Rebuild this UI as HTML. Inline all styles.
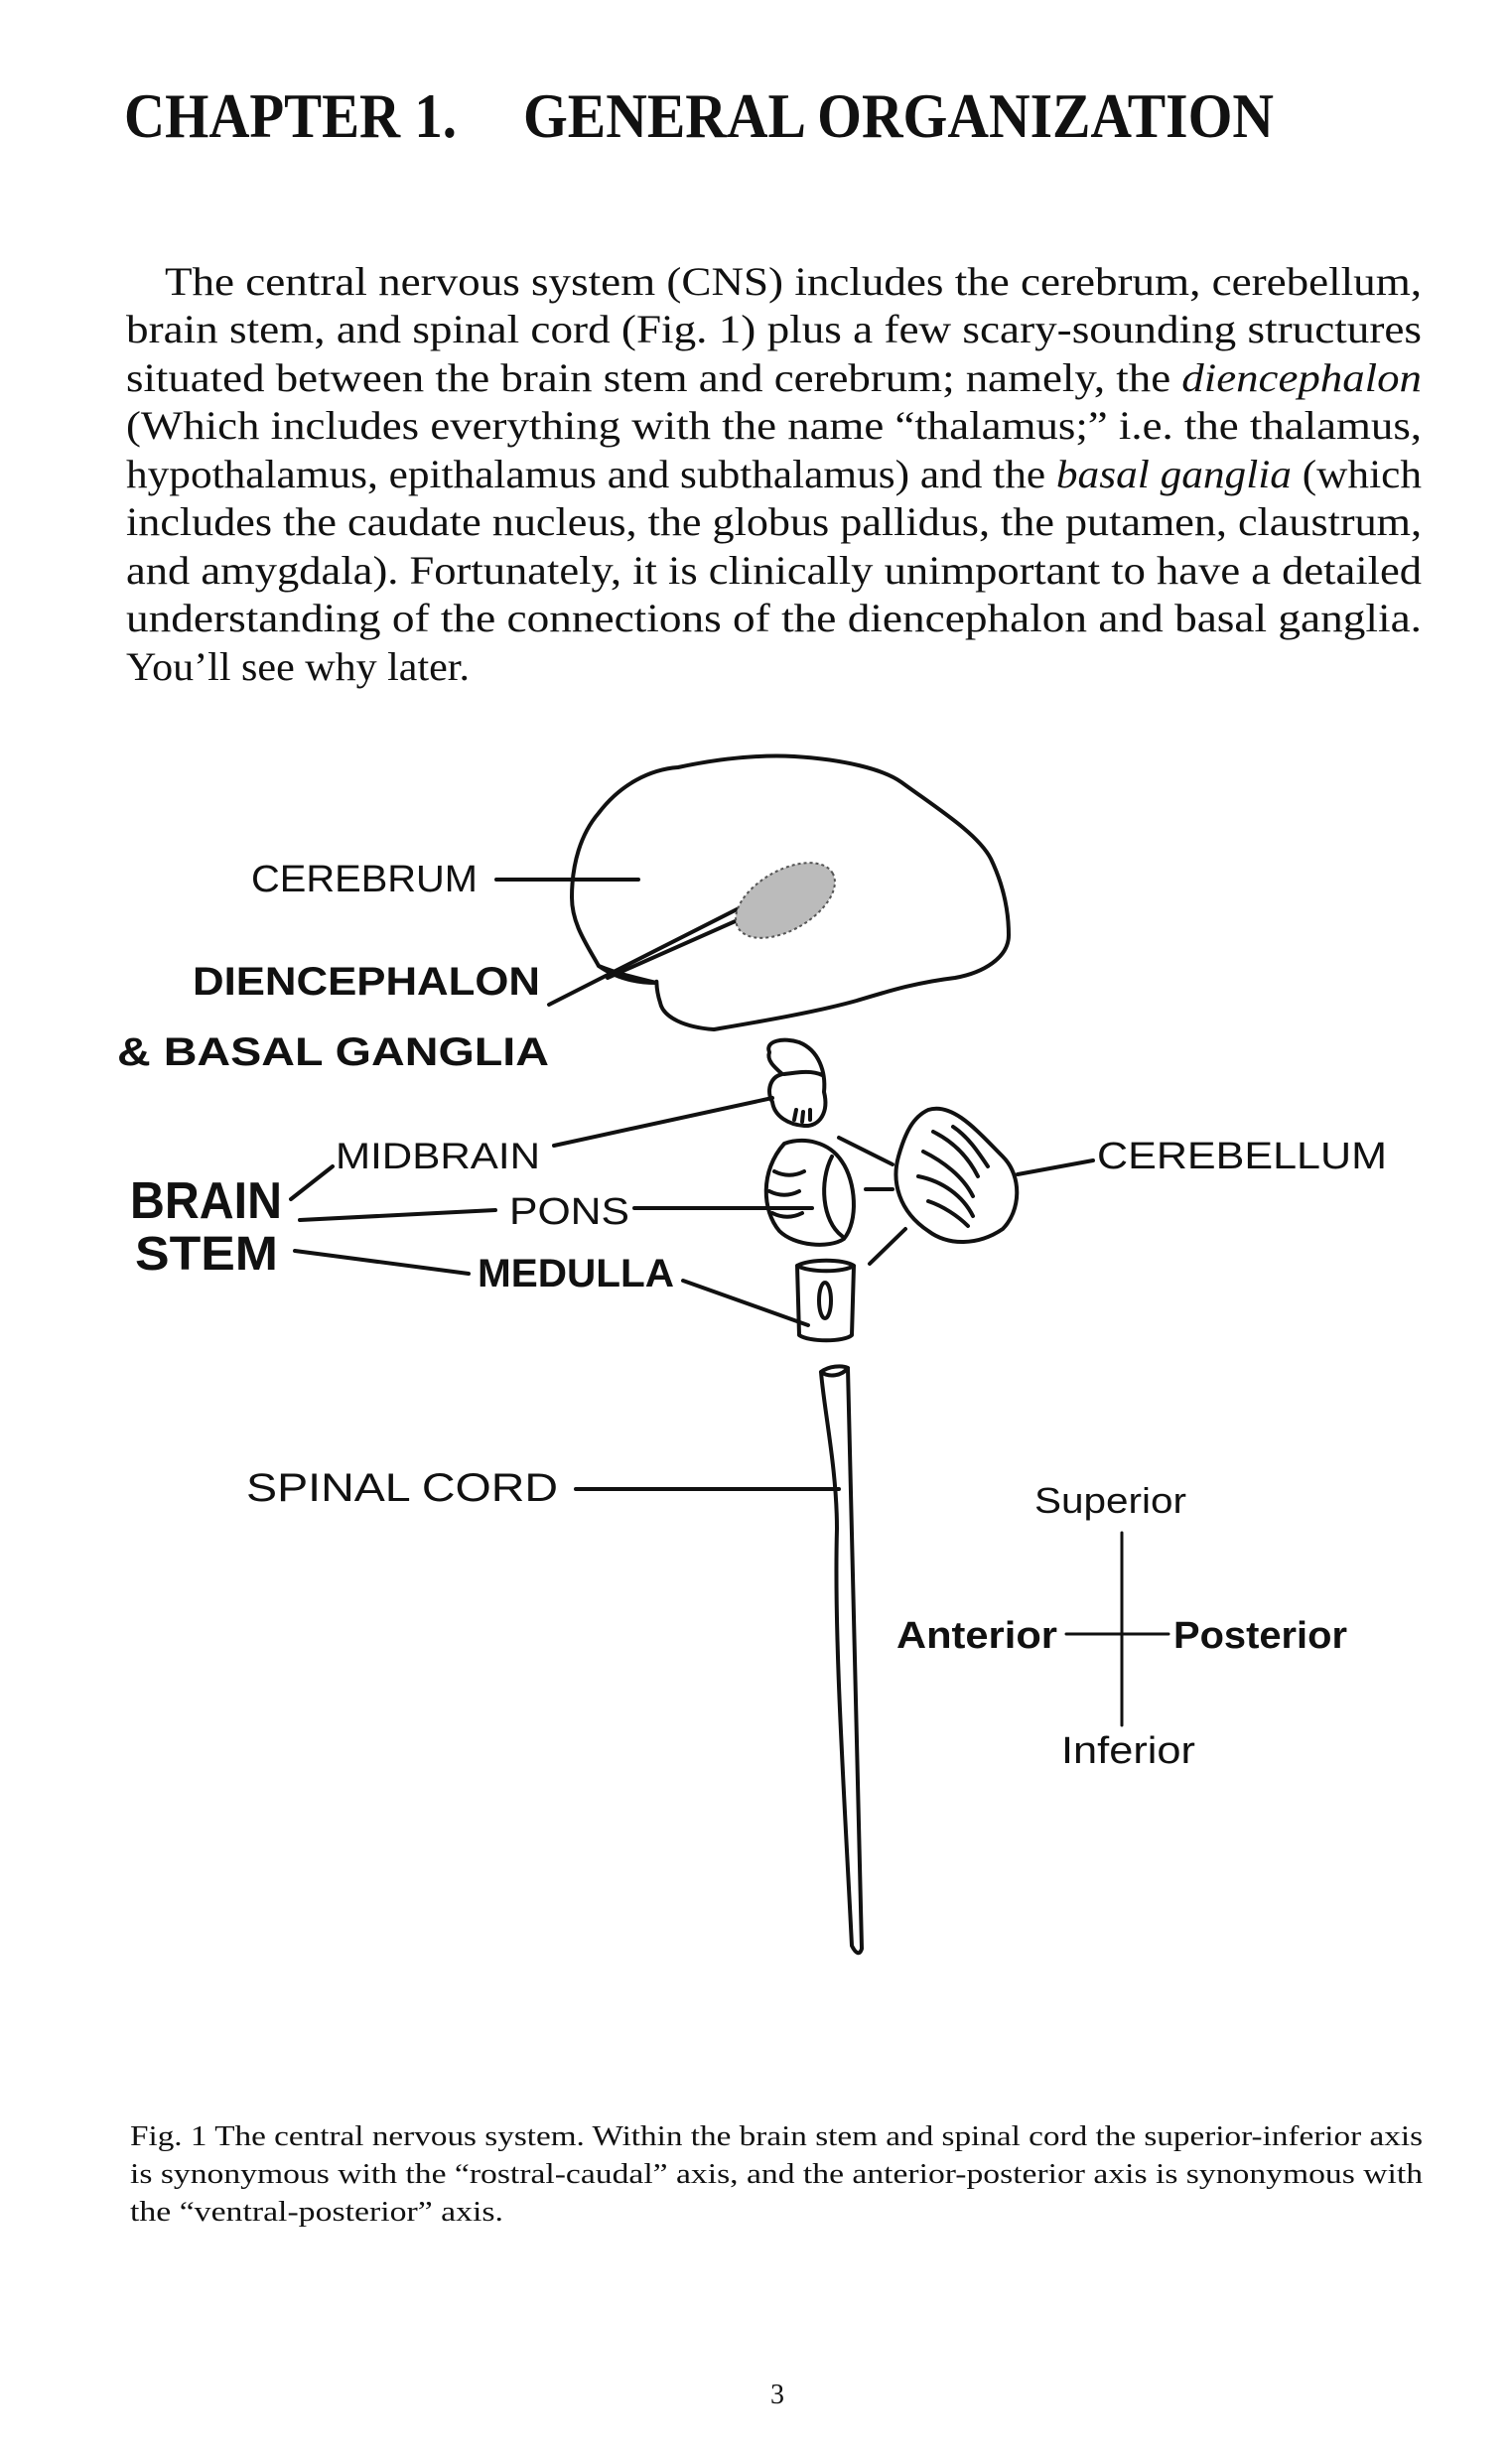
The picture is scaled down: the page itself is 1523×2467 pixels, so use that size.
<!DOCTYPE html>
<html><head><meta charset="utf-8"><style>
html,body{margin:0;padding:0;background:#fff;}
svg{display:block;}
.s{font-family:"Liberation Serif",serif;fill:#111;}
.a{font-family:"Liberation Sans",sans-serif;fill:#111;}
</style></head><body>
<svg width="1523" height="2467" viewBox="0 0 1523 2467" xmlns="http://www.w3.org/2000/svg">
<rect width="1523" height="2467" fill="#fff"/>
<g class="s" font-weight="bold" font-size="64">
<text x="125" y="138" textLength="335" lengthAdjust="spacingAndGlyphs">CHAPTER 1.</text>
<text x="527" y="138" textLength="756" lengthAdjust="spacingAndGlyphs">GENERAL ORGANIZATION</text>
</g>
<g class="s" font-size="40">
<text x="166" y="297" textLength="1266" lengthAdjust="spacingAndGlyphs">The central nervous system (CNS) includes the cerebrum, cerebellum,</text>
<text x="127" y="345" textLength="1305" lengthAdjust="spacingAndGlyphs">brain stem, and spinal cord (Fig. 1) plus a few scary-sounding structures</text>
<text x="127" y="394" textLength="1305" lengthAdjust="spacingAndGlyphs">situated between the brain stem and cerebrum; namely, the <tspan font-style="italic">diencephalon</tspan></text>
<text x="127" y="442" textLength="1305" lengthAdjust="spacingAndGlyphs">(Which includes everything with the name “thalamus;” i.e. the thalamus,</text>
<text x="127" y="491" textLength="1305" lengthAdjust="spacingAndGlyphs">hypothalamus, epithalamus and subthalamus) and the <tspan font-style="italic">basal ganglia</tspan> (which</text>
<text x="127" y="539" textLength="1305" lengthAdjust="spacingAndGlyphs">includes the caudate nucleus, the globus pallidus, the putamen, claustrum,</text>
<text x="127" y="588" textLength="1305" lengthAdjust="spacingAndGlyphs">and amygdala). Fortunately, it is clinically unimportant to have a detailed</text>
<text x="127" y="636" textLength="1305" lengthAdjust="spacingAndGlyphs">understanding of the connections of the diencephalon and basal ganglia.</text>
<text x="127" y="685" textLength="346" lengthAdjust="spacingAndGlyphs">You’ll see why later.</text>
</g>
<g fill="none" stroke="#111" stroke-width="4" stroke-linecap="round" stroke-linejoin="round">
<!-- cerebrum -->
<path d="M603,973 C590,950 576,930 576,904 C576,870 585,840 603,819 C625,790 655,775 683,773 C720,765 760,760 800,762 C850,765 890,775 908,788 C945,815 985,840 998,865 C1010,890 1016,915 1016,942 C1016,965 990,980 962,985 C920,990 890,1000 863,1008 C820,1020 760,1030 719,1037 C690,1035 668,1025 665,1010 C660,995 662,985 661,990 C640,985 620,980 603,973 Z"/>
<path d="M603,973 C620,985 640,990 661,990"/>
<!-- diencephalon pointer -->
<path d="M553,1012 L764,905"/>
<path d="M612,985 L770,915"/>
<path d="M500,886 L643,886"/>
<!-- midbrain -->
<path d="M775,1060 C770,1048 790,1045 805,1050 C825,1058 832,1080 830,1100 C835,1120 826,1135 810,1134 C795,1133 780,1125 778,1110 C772,1100 775,1085 788,1082 C780,1075 772,1068 775,1060 Z"/>
<path d="M790,1082 C805,1080 818,1078 828,1083"/>
<path d="M558,1154 L778,1106"/>
<path d="M800,1128 l2,-10 M808,1130 l1,-10 M816,1128 l0,-10"/>
<!-- pons -->
<path d="M790,1152 C810,1145 835,1150 848,1170 C862,1190 865,1230 850,1248 C835,1258 800,1255 785,1240 C768,1220 765,1180 790,1152 Z"/>
<path d="M838,1165 C825,1190 828,1230 848,1245"/>
<path d="M780,1180 c10,5 20,5 30,0 M775,1200 c10,5 20,5 30,0 M778,1222 c10,5 20,5 30,0"/>
<path d="M639,1217 L818,1217"/>
<!-- medulla -->
<path d="M803,1275 C815,1268 850,1268 860,1275 L858,1345 C850,1352 815,1352 805,1345 Z"/>
<path d="M803,1275 C815,1282 850,1282 860,1275"/>
<ellipse cx="831" cy="1310" rx="6" ry="18"/>
<path d="M688,1290 L814,1335"/>
<!-- cerebellum -->
<path d="M935,1118 C960,1110 985,1140 1010,1165 C1030,1185 1028,1220 1010,1238 C985,1255 955,1255 935,1240 C905,1220 898,1190 905,1165 C912,1140 920,1125 935,1118 Z"/>
<path d="M940,1140 c20,10 35,25 45,45 M930,1160 c20,10 40,25 50,45 M925,1185 c25,5 45,20 55,40 M960,1135 c15,10 25,25 35,40 M935,1210 c15,5 30,15 40,25"/>
<path d="M845,1146 L899,1173 M872,1198 L899,1198 M912,1238 L876,1273"/>
<path d="M1025,1183 L1101,1169"/>
<!-- brain stem label lines -->
<path d="M293,1208 L335,1175"/>
<path d="M302,1229 L499,1219"/>
<path d="M297,1260 L472,1283"/>
<!-- spinal cord -->
<path d="M827,1382 C835,1376 848,1375 854,1378 C856,1500 860,1700 868,1963 C866,1970 862,1968 858,1960 C850,1800 840,1650 843,1540 C843,1480 830,1420 827,1382 Z"/>
<path d="M827,1382 C835,1388 848,1386 854,1378"/>
<path d="M580,1500 L845,1500"/>
<!-- axes -->
<path d="M1130,1544 L1130,1738 M1074,1646 L1177,1646" stroke-width="3"/>
</g>
<!-- dotted diencephalon -->
<ellipse cx="791" cy="907" rx="55" ry="30" transform="rotate(-30 791 907)" fill="#bbb" stroke="#555" stroke-width="2" stroke-dasharray="3 3"/>
<g class="a">
<text x="253" y="898" font-size="38" textLength="228" lengthAdjust="spacingAndGlyphs">CEREBRUM</text>
<text x="194" y="1002" font-size="40" font-weight="bold" textLength="350" lengthAdjust="spacingAndGlyphs">DIENCEPHALON</text>
<text x="118" y="1073" font-size="40" font-weight="bold" textLength="435" lengthAdjust="spacingAndGlyphs">&amp;  BASAL GANGLIA</text>
<text x="338" y="1177" font-size="37" textLength="206" lengthAdjust="spacingAndGlyphs">MIDBRAIN</text>
<text x="131" y="1227" font-size="52" font-weight="bold" textLength="153" lengthAdjust="spacingAndGlyphs">BRAIN</text>
<text x="136" y="1279" font-size="48" font-weight="bold" textLength="144" lengthAdjust="spacingAndGlyphs">STEM</text>
<text x="513" y="1233" font-size="38" textLength="121" lengthAdjust="spacingAndGlyphs">PONS</text>
<text x="481" y="1296" font-size="40" font-weight="bold" textLength="198" lengthAdjust="spacingAndGlyphs">MEDULLA</text>
<text x="1105" y="1177" font-size="38" textLength="292" lengthAdjust="spacingAndGlyphs">CEREBELLUM</text>
<text x="248" y="1512" font-size="40" textLength="314" lengthAdjust="spacingAndGlyphs">SPINAL   CORD</text>
<text x="1042" y="1524" font-size="36" textLength="153" lengthAdjust="spacingAndGlyphs">Superior</text>
<text x="903" y="1660" font-size="38" font-weight="bold" textLength="162" lengthAdjust="spacingAndGlyphs">Anterior</text>
<text x="1182" y="1660" font-size="38" font-weight="bold" textLength="175" lengthAdjust="spacingAndGlyphs">Posterior</text>
<text x="1069" y="1776" font-size="38" textLength="135" lengthAdjust="spacingAndGlyphs">Inferior</text>
</g>
<g class="s" font-size="28">
<text x="131" y="2161" textLength="1302" lengthAdjust="spacingAndGlyphs">Fig. 1   The central nervous system. Within the brain stem and spinal cord the superior-inferior axis</text>
<text x="131" y="2199" textLength="1302" lengthAdjust="spacingAndGlyphs">is synonymous with the “rostral-caudal” axis, and the anterior-posterior axis is synonymous with</text>
<text x="131" y="2237" textLength="376" lengthAdjust="spacingAndGlyphs">the “ventral-posterior” axis.</text>
<text x="776" y="2421" font-size="28">3</text>
</g>
</svg>
</body></html>
